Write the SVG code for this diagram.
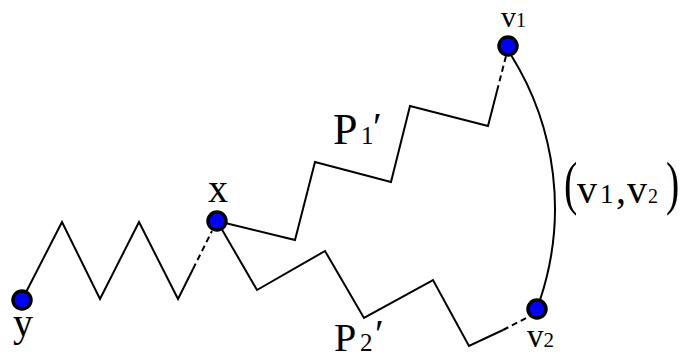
<svg xmlns="http://www.w3.org/2000/svg" width="683" height="360" viewBox="0 0 683 360">
<style>
.ln{fill:none;stroke:#000;stroke-width:2;stroke-linejoin:miter}
.dash{fill:none;stroke:#000;stroke-width:2;stroke-dasharray:6 4}
.nd{fill:#0000ff;stroke:#000;stroke-width:3.5}
.t{font-family:"Liberation Serif","DejaVu Serif",serif;fill:#000}
</style>
<rect width="683" height="360" fill="#fff"/>
<g id="connectors">
<path class="ln" d="M22,300 L62,222 L100,299 L139,222 L178,299 L193,269"/>
<path class="dash" d="M193,269 L212,231"/>
<path class="ln" d="M217,221 L295,240 L315,162 L391,182 L410,106 L488,126 L497,91"/>
<path class="dash" d="M497,91 L506,56"/>
<path class="ln" d="M217,221 L257,290 L325,251 L364,318 L433,280 L469,346 L503,330"/>
<path class="dash" d="M503,330 L530,316"/>
<path class="ln" d="M511,55 A289,289 0 0 1 540,300"/>
<text class="t" x="333" y="144" font-size="44">P<tspan x="361" font-size="25">1</tspan><tspan x="373" y="140" font-size="40">′</tspan></text>
<text class="t" x="334" y="351" font-size="40">P<tspan x="360" font-size="25">2</tspan><tspan x="375" y="347" font-size="40">′</tspan></text>
<text class="t" transform="translate(564,203) scale(1,1.5)" font-size="40">(</text>
<text class="t" y="203" font-size="40"><tspan x="577">v</tspan><tspan x="600" font-size="27">1</tspan><tspan x="616">,</tspan><tspan x="627">v</tspan><tspan x="648" font-size="20">2</tspan></text>
<text class="t" transform="translate(666,203) scale(1,1.5)" font-size="40">)</text>
</g>
<g id="node-v1">
<circle class="nd" cx="508" cy="46" r="9"/>
<text class="t" x="501" y="27" font-size="30">v<tspan font-size="20">1</tspan></text>
</g>
<g id="node-x">
<circle class="nd" cx="217" cy="221" r="9"/>
<text class="t" x="218" y="202" font-size="40" text-anchor="middle">x</text>
</g>
<g id="node-y">
<circle class="nd" cx="22" cy="300" r="9"/>
<text class="t" x="23" y="336" font-size="40" text-anchor="middle">y</text>
</g>
<g id="node-v2">
<circle class="nd" cx="537" cy="309" r="9"/>
<text class="t" x="527" y="347" font-size="33">v<tspan font-size="21">2</tspan></text>
</g>
</svg>
